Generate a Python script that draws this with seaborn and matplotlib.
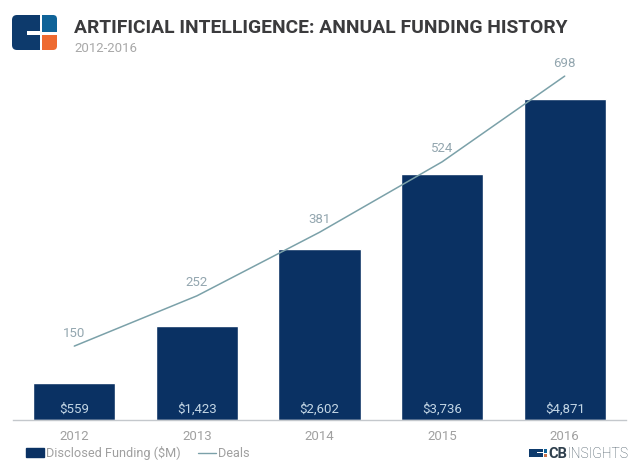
from matplotlib import pyplot as plt
from matplotlib.lines import Line2D
from matplotlib.patches import FancyBboxPatch, Patch, Rectangle
import seaborn as sns

years = ['2012', '2013', '2014', '2015', '2016']
funding = [559, 1423, 2602, 3736, 4871]
funding_labels = ['$559', '$1,423', '$2,602', '$3,736', '$4,871']
deals = [150, 252, 381, 524, 698]

W, H = 640, 469
NAVY = '#0a3163'
TEAL = '#7ba1a9'
GREY = '#a0a0a0'
LABEL = '#93a6af'

sns.set_theme(style='white')
plt.rcParams['font.family'] = ['Roboto', 'DejaVu Sans']

fig = plt.figure(figsize=(W / 100, H / 100), dpi=100, facecolor='white')


# pixels du haut-gauche vers coordonnees figure
def fx(x):
    return x / W


def fy(y):
    return 1 - y / H


ax = fig.add_axes([fx(13), fy(420), 613 / W, 370 / H])
sns.barplot(x=years, y=funding, color=NAVY, saturation=1, width=0.672, ax=ax)
ax.set_ylim(0, 5615)
ax.set_yticks([])
ax.set_xlim(-0.5, 4.5)
ax.tick_params(axis='x', length=0, colors=GREY, labelsize=9.5, pad=7)
sns.despine(ax=ax, left=True)
ax.spines['bottom'].set_color('#c4c8cc')
ax.spines['bottom'].set_linewidth(1)

for i, lab in enumerate(funding_labels):
    ax.annotate(lab, (i, 0), xytext=(0, 11), textcoords='offset pixels', ha='center',
                va='center', color='#c3d6e5', fontsize=9.5)

# courbe des deals sur un second axe
ax2 = ax.twinx()
sns.lineplot(x=list(range(len(years))), y=deals, color=TEAL, linewidth=1.1, ax=ax2)
ax2.set_ylim(0, 751)
ax2.set_yticks([])
ax2.set_ylabel('')
sns.despine(ax=ax2, left=True, right=True, top=True, bottom=True)

for i, d in enumerate(deals):
    ax2.annotate(str(d), (i, d), xytext=(0, 13), textcoords='offset pixels', ha='center',
                 va='center', color=LABEL, fontsize=9.5)

# titre
fig.text(fx(74), fy(28), 'ARTIFICIAL INTELLIGENCE: ANNUAL FUNDING HISTORY', fontsize=13.9,
         fontweight='bold', color='#3b3b3d', ha='left', va='center')
fig.text(fx(74), fy(49), '2012-2016', fontsize=9.5, color='#a8a8a8', ha='left', va='center')

# legende
handles = [Patch(color=NAVY, label='Disclosed Funding ($M)'),
           Line2D([0], [0], color=TEAL, linewidth=1, label='Deals')]
fig.legend(handles=handles, loc='center left', bbox_to_anchor=(fx(16), fy(453)), ncol=2, frameon=False,
           fontsize=9.2, labelcolor=GREY, handlelength=1.4, handleheight=0.6,
           handletextpad=0.15, columnspacing=1.35, borderpad=0.3)

# logo en haut a gauche
logo = fig.add_axes([0, 0, 1, 1], zorder=5)
logo.set_xlim(0, W)
logo.set_ylim(H, 0)
logo.axis('off')


def block(x, y, w, h, color, r=3):
    logo.add_patch(FancyBboxPatch((x + r, y + r), w - 2 * r, h - 2 * r, boxstyle=f'round,pad={r}',
                                  facecolor=color, edgecolor='none'))


def rect(x, y, w, h, color):
    logo.add_patch(Rectangle((x, y), w, h, facecolor=color, edgecolor='none'))


block(12, 15, 28, 35, '#0d3a6c', r=5)
rect(30, 15, 10, 35, '#0d3a6c')
rect(27, 31, 13, 4, 'white')
block(42, 15, 15, 17, '#0f6398', r=4)
rect(42, 15, 6, 17, '#0f6398')
rect(42, 25, 15, 7, '#0f6398')
block(42, 35, 15, 15, '#ee6a30', r=4)
rect(42, 35, 6, 15, '#ee6a30')
rect(42, 35, 15, 6, '#ee6a30')

# logo CB Insights en bas a droite
rect(529, 449, 14, 8, '#0d3a6c')
rect(537, 452, 6, 1, 'white')
rect(544, 449, 3, 4, '#0f6398')
rect(544, 454, 3, 3, '#c9714a')
logo.text(548, 453.5, 'CB', fontsize=10.5, fontweight='bold', color='#2f3f4d', ha='left', va='center')
logo.text(567, 453.5, 'INSIGHTS', fontsize=10, fontweight='light', color='#3f515d', ha='left', va='center')

fig.savefig('out.png', dpi=100)
